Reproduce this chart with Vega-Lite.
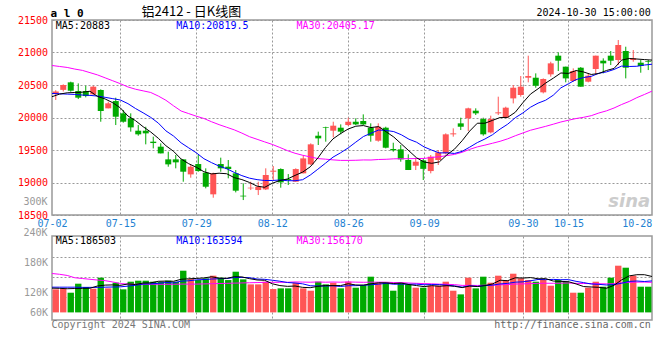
{
  "$schema": "https://vega.github.io/schema/vega-lite/v6.json",
  "background": "#ffffff",
  "padding": {"left": 16, "top": 4, "right": 4, "bottom": 4},
  "autosize": {"type": "pad"},
  "spacing": 21,
  "bounds": "flush",
  "resolve": {"scale": {"x": "independent", "y": "independent"}},
  "config": {
    "view": {"stroke": "#999999", "strokeWidth": 1.5},
    "axis": {"labelFont": "DejaVu Sans Mono", "labelFontSize": 10, "labelOverlap": false},
    "text": {"font": "DejaVu Sans Mono", "fontSize": 10}
  },
  "data": {"values": [
    {"d":"07-02","o":20360,"h":20420,"l":20270,"c":20400,"m5":20320,"m10":20370,"m30":20800,"v":119700,"v5":126000,"v10":131000,"v30":202000},
    {"d":"07-03","o":20425,"h":20510,"l":20400,"c":20500,"m5":20360,"m10":20365,"m30":20785,"v":121400,"v5":125000,"v10":131000,"v30":198000},
    {"d":"07-04","o":20541,"h":20551,"l":20397,"c":20412,"m5":20380,"m10":20360,"m30":20770,"v":102300,"v5":123000,"v10":131000,"v30":192000},
    {"d":"07-05","o":20407,"h":20525,"l":20284,"c":20305,"m5":20385,"m10":20355,"m30":20745,"v":149100,"v5":124000,"v10":131000,"v30":180000},
    {"d":"07-08","o":20407,"h":20489,"l":20310,"c":20330,"m5":20389,"m10":20345,"m30":20725,"v":131800,"v5":124900,"v10":130000,"v30":176000},
    {"d":"07-09","o":20356,"h":20489,"l":20346,"c":20474,"m5":20404,"m10":20340,"m30":20690,"v":123100,"v5":125500,"v10":130000,"v30":172000},
    {"d":"07-10","o":20423,"h":20433,"l":19935,"c":20100,"m5":20324,"m10":20330,"m30":20655,"v":180300,"v5":137300,"v10":130000,"v30":168000},
    {"d":"07-11","o":20141,"h":20243,"l":20141,"c":20218,"m5":20285,"m10":20310,"m30":20610,"v":124900,"v5":141800,"v10":131000,"v30":165000},
    {"d":"07-12","o":20253,"h":20305,"l":19884,"c":20012,"m5":20227,"m10":20290,"m30":20565,"v":154300,"v5":142900,"v10":132000,"v30":158000},
    {"d":"07-15","o":20064,"h":20115,"l":19920,"c":19935,"m5":20148,"m10":20269,"m30":20520,"v":119700,"v5":140500,"v10":132700,"v30":150000},
    {"d":"07-16","o":19987,"h":20064,"l":19782,"c":19848,"m5":20023,"m10":20213,"m30":20470,"v":159500,"v5":147700,"v10":136600,"v30":147000},
    {"d":"07-17","o":19797,"h":19884,"l":19720,"c":19741,"m5":19951,"m10":20138,"m30":20435,"v":164700,"v5":144600,"v10":141000,"v30":146000},
    {"d":"07-18","o":19797,"h":19858,"l":19587,"c":19756,"m5":19858,"m10":20072,"m30":20410,"v":164700,"v5":152600,"v10":147200,"v30":146000},
    {"d":"07-19","o":19628,"h":19705,"l":19525,"c":19607,"m5":19777,"m10":20002,"m30":20385,"v":159500,"v5":153600,"v10":148300,"v30":146000},
    {"d":"07-22","o":19551,"h":19602,"l":19448,"c":19448,"m5":19680,"m10":19914,"m30":20330,"v":159500,"v5":161600,"v10":151000,"v30":146000},
    {"d":"07-23","o":19356,"h":19474,"l":19243,"c":19279,"m5":19566,"m10":19794,"m30":20265,"v":164700,"v5":162600,"v10":155200,"v30":146000},
    {"d":"07-24","o":19356,"h":19423,"l":19218,"c":19310,"m5":19480,"m10":19715,"m30":20180,"v":159500,"v5":161600,"v10":153100,"v30":146000},
    {"d":"07-25","o":19356,"h":19356,"l":19012,"c":19166,"m5":19362,"m10":19610,"m30":20100,"v":216600,"v5":172000,"v10":162300,"v30":147000},
    {"d":"07-26","o":19125,"h":19269,"l":19074,"c":19243,"m5":19289,"m10":19533,"m30":20060,"v":173300,"v5":174700,"v10":164200,"v30":147000},
    {"d":"07-29","o":19284,"h":19423,"l":19166,"c":19176,"m5":19235,"m10":19457,"m30":20020,"v":168100,"v5":176400,"v10":169000,"v30":147000},
    {"d":"07-30","o":19151,"h":19218,"l":18910,"c":18935,"m5":19166,"m10":19366,"m30":19985,"v":176800,"v5":178900,"v10":170700,"v30":148000},
    {"d":"07-31","o":18818,"h":19151,"l":18766,"c":19141,"m5":19132,"m10":19306,"m30":19935,"v":190700,"v5":185100,"v10":173300,"v30":149000},
    {"d":"08-01","o":19284,"h":19382,"l":19166,"c":19218,"m5":19143,"m10":19252,"m30":19890,"v":180300,"v5":177800,"v10":174900,"v30":150000},
    {"d":"08-02","o":19243,"h":19346,"l":19064,"c":19207,"m5":19135,"m10":19212,"m30":19850,"v":168100,"v5":176800,"v10":175800,"v30":151000},
    {"d":"08-05","o":19141,"h":19192,"l":18848,"c":18874,"m5":19075,"m10":19155,"m30":19810,"v":211400,"v5":185500,"v10":181000,"v30":152000},
    {"d":"08-06","o":18797,"h":18987,"l":18730,"c":18786,"m5":19045,"m10":19106,"m30":19760,"v":171600,"v5":184400,"v10":181600,"v30":153000},
    {"d":"08-07","o":18910,"h":19012,"l":18884,"c":18920,"m5":19001,"m10":19067,"m30":19705,"v":145600,"v5":175400,"v10":180300,"v30":154000},
    {"d":"08-08","o":18884,"h":19012,"l":18807,"c":18935,"m5":18944,"m10":19044,"m30":19665,"v":145600,"v5":168500,"v10":173200,"v30":155000},
    {"d":"08-09","o":18894,"h":19218,"l":18884,"c":19115,"m5":18926,"m10":19031,"m30":19625,"v":159500,"v5":166700,"v10":171800,"v30":156000},
    {"d":"08-12","o":19166,"h":19253,"l":19038,"c":19182,"m5":18988,"m10":19031,"m30":19586,"v":121400,"v5":148700,"v10":167100,"v30":156300},
    {"d":"08-13","o":19207,"h":19218,"l":18920,"c":19002,"m5":19031,"m10":19038,"m30":19539,"v":124900,"v5":139400,"v10":161900,"v30":156400},
    {"d":"08-14","o":19053,"h":19130,"l":18961,"c":19038,"m5":19054,"m10":19028,"m30":19490,"v":124900,"v5":135300,"v10":155300,"v30":156500},
    {"d":"08-15","o":19012,"h":19218,"l":19012,"c":19207,"m5":19109,"m10":19027,"m30":19450,"v":154300,"v5":137000,"v10":152700,"v30":158300},
    {"d":"08-16","o":19141,"h":19423,"l":19141,"c":19371,"m5":19160,"m10":19043,"m30":19419,"v":124900,"v5":130100,"v10":148400,"v30":157500},
    {"d":"08-19","o":19279,"h":19602,"l":19269,"c":19587,"m5":19241,"m10":19114,"m30":19394,"v":112700,"v5":128300,"v10":138500,"v30":156800},
    {"d":"08-20","o":19720,"h":19782,"l":19577,"c":19679,"m5":19376,"m10":19204,"m30":19368,"v":159500,"v5":135300,"v10":137300,"v30":158100},
    {"d":"08-21","o":19853,"h":19858,"l":19628,"c":19843,"m5":19537,"m10":19296,"m30":19359,"v":145600,"v5":139400,"v10":137300,"v30":156900},
    {"d":"08-22","o":19797,"h":19935,"l":19694,"c":19874,"m5":19671,"m10":19390,"m30":19348,"v":154300,"v5":139400,"v10":138200,"v30":157900},
    {"d":"08-23","o":19843,"h":19894,"l":19741,"c":19782,"m5":19753,"m10":19457,"m30":19340,"v":124900,"v5":139400,"v10":134700,"v30":156900},
    {"d":"08-26","o":19884,"h":19997,"l":19869,"c":19935,"m5":19823,"m10":19532,"m30":19340,"v":159500,"v5":148800,"v10":138600,"v30":158200},
    {"d":"08-27","o":19935,"h":19987,"l":19884,"c":19894,"m5":19866,"m10":19621,"m30":19342,"v":128300,"v5":142500,"v10":138900,"v30":157200},
    {"d":"08-28","o":19946,"h":20048,"l":19884,"c":19894,"m5":19876,"m10":19707,"m30":19347,"v":142200,"v5":141800,"v10":140600,"v30":156400},
    {"d":"08-29","o":19843,"h":19910,"l":19628,"c":19720,"m5":19845,"m10":19758,"m30":19346,"v":185500,"v5":148100,"v10":143700,"v30":157100},
    {"d":"08-30","o":19643,"h":19910,"l":19628,"c":19858,"m5":19860,"m10":19807,"m30":19354,"v":154300,"v5":154000,"v10":146700,"v30":157000},
    {"d":"09-02","o":19843,"h":19858,"l":19525,"c":19535,"m5":19780,"m10":19801,"m30":19357,"v":156000,"v5":153300,"v10":151000,"v30":156800},
    {"d":"09-03","o":19515,"h":19612,"l":19474,"c":19495,"m5":19700,"m10":19783,"m30":19364,"v":112700,"v5":150100,"v10":146300,"v30":155100},
    {"d":"09-04","o":19510,"h":19577,"l":19320,"c":19356,"m5":19593,"m10":19734,"m30":19366,"v":154300,"v5":152600,"v10":147200,"v30":154900},
    {"d":"09-05","o":19346,"h":19433,"l":19192,"c":19192,"m5":19487,"m10":19666,"m30":19366,"v":145600,"v5":144600,"v10":146300,"v30":152600},
    {"d":"09-06","o":19258,"h":19371,"l":19192,"c":19320,"m5":19380,"m10":19620,"m30":19369,"v":128300,"v5":139400,"v10":146700,"v30":151100},
    {"d":"09-09","o":19340,"h":19371,"l":19038,"c":19210,"m5":19315,"m10":19547,"m30":19370,"v":128300,"v5":133800,"v10":143600,"v30":149700},
    {"d":"09-10","o":19176,"h":19423,"l":19141,"c":19397,"m5":19295,"m10":19498,"m30":19386,"v":138700,"v5":139000,"v10":144600,"v30":148500},
    {"d":"09-11","o":19346,"h":19500,"l":19269,"c":19464,"m5":19317,"m10":19455,"m30":19396,"v":138700,"v5":135900,"v10":144200,"v30":146700},
    {"d":"09-12","o":19448,"h":19756,"l":19433,"c":19741,"m5":19426,"m10":19457,"m30":19414,"v":159500,"v5":138700,"v10":141600,"v30":146000},
    {"d":"09-13","o":19741,"h":19833,"l":19705,"c":19756,"m5":19514,"m10":19447,"m30":19432,"v":112700,"v5":135600,"v10":137500,"v30":144200},
    {"d":"09-18","o":19910,"h":19997,"l":19807,"c":19858,"m5":19643,"m10":19479,"m30":19465,"v":93700,"v5":128700,"v10":131300,"v30":140300},
    {"d":"09-19","o":19987,"h":20151,"l":19792,"c":20141,"m5":19792,"m10":19544,"m30":19510,"v":180300,"v5":137000,"v10":138000,"v30":140600},
    {"d":"09-20","o":20105,"h":20141,"l":20038,"c":20064,"m5":19912,"m10":19614,"m30":19548,"v":124900,"v5":134200,"v10":135100,"v30":139900},
    {"d":"09-23","o":19976,"h":19997,"l":19720,"c":19741,"m5":19912,"m10":19669,"m30":19575,"v":185500,"v5":139400,"v10":139100,"v30":141200},
    {"d":"09-24","o":19771,"h":20028,"l":19756,"c":19976,"m5":19956,"m10":19735,"m30":19604,"v":154300,"v5":147700,"v10":141700,"v30":141000},
    {"d":"09-25","o":20064,"h":20320,"l":20038,"c":20079,"m5":20000,"m10":19822,"m30":19634,"v":190700,"v5":167100,"v10":147900,"v30":143300},
    {"d":"09-26","o":19997,"h":20166,"l":19987,"c":20151,"m5":20002,"m10":19897,"m30":19672,"v":168100,"v5":164700,"v10":150800,"v30":144800},
    {"d":"09-27","o":20294,"h":20500,"l":20217,"c":20458,"m5":20081,"m10":19997,"m30":19719,"v":201000,"v5":179900,"v10":157100,"v30":147300},
    {"d":"09-30","o":20346,"h":20638,"l":20320,"c":20474,"m5":20228,"m10":20070,"m30":19762,"v":176800,"v5":178200,"v10":158800,"v30":148100},
    {"d":"10-08","o":20612,"h":20951,"l":20541,"c":20638,"m5":20360,"m10":20158,"m30":19804,"v":168100,"v5":180900,"v10":164300,"v30":149500},
    {"d":"10-09","o":20612,"h":20679,"l":20458,"c":20489,"m5":20442,"m10":20221,"m30":19834,"v":159500,"v5":174700,"v10":170900,"v30":151100},
    {"d":"10-10","o":20387,"h":20602,"l":20371,"c":20592,"m5":20530,"m10":20266,"m30":19864,"v":171600,"v5":175400,"v10":170100,"v30":151500},
    {"d":"10-11","o":20664,"h":20858,"l":20628,"c":20833,"m5":20605,"m10":20343,"m30":19897,"v":138700,"v5":162900,"v10":171400,"v30":151200},
    {"d":"10-14","o":20951,"h":21002,"l":20715,"c":20874,"m5":20685,"m10":20456,"m30":19931,"v":168100,"v5":161200,"v10":169700,"v30":151700},
    {"d":"10-15","o":20782,"h":20782,"l":20541,"c":20602,"m5":20678,"m10":20519,"m30":19958,"v":159500,"v5":159500,"v10":170200,"v30":152800},
    {"d":"10-16","o":20561,"h":20756,"l":20551,"c":20715,"m5":20723,"m10":20583,"m30":19984,"v":102300,"v5":148000,"v10":161400,"v30":150900},
    {"d":"10-17","o":20766,"h":20776,"l":20474,"c":20474,"m5":20700,"m10":20615,"m30":20003,"v":102300,"v5":134200,"v10":154800,"v30":150100},
    {"d":"10-18","o":20551,"h":20679,"l":20541,"c":20643,"m5":20662,"m10":20633,"m30":20028,"v":128300,"v5":132100,"v10":147500,"v30":149600},
    {"d":"10-21","o":20746,"h":20951,"l":20653,"c":20951,"m5":20677,"m10":20681,"m30":20069,"v":159500,"v5":130400,"v10":145800,"v30":148700},
    {"d":"10-22","o":20874,"h":20910,"l":20679,"c":20833,"m5":20723,"m10":20701,"m30":20102,"v":133500,"v5":125200,"v10":142300,"v30":148100},
    {"d":"10-23","o":20951,"h":21023,"l":20807,"c":20874,"m5":20755,"m10":20739,"m30":20146,"v":180300,"v5":140800,"v10":144400,"v30":148900},
    {"d":"10-24","o":20884,"h":21192,"l":20807,"c":21115,"m5":20883,"m10":20791,"m30":20200,"v":242600,"v5":168800,"v10":151500,"v30":153200},
    {"d":"10-25","o":21023,"h":21089,"l":20602,"c":20766,"m5":20908,"m10":20785,"m30":20247,"v":232200,"v5":189600,"v10":160900,"v30":155800},
    {"d":"10-28","o":20884,"h":21038,"l":20858,"c":20910,"m5":20900,"m10":20788,"m30":20305,"v":190700,"v5":195900,"v10":163100,"v30":157300},
    {"d":"10-29","o":20843,"h":20884,"l":20689,"c":20792,"m5":20891,"m10":20807,"m30":20354,"v":133500,"v5":195900,"v10":160500,"v30":157500},
    {"d":"10-30","o":20869,"h":20884,"l":20730,"c":20858,"m5":20883,"m10":20819.5,"m30":20405.17,"v":133500,"v5":186503,"v10":163594,"v30":156170}
  ]},
  "vconcat": [
    {
      "width": 600,
      "height": 195,
      "resolve": {"scale": {"x": "independent"}},
      "layer": [
        {
          "encoding": {
            "x": {"field": "d", "type": "ordinal", "title": null, "scale": {"type": "band", "paddingInner": 0, "paddingOuter": 0},
              "axis": {"orient": "top", "values": ["07-02"], "labelExpr": "'a l 0'", "labelAngle": 0, "labelAlign": "left", "labelBaseline": "middle", "labelPadding": 6.5, "labelOffset": -5.25, "labelFontSize": 11, "labelFontWeight": "bold", "labelColor": "#000000", "grid": false, "ticks": false, "tickSize": 0, "domain": false, "title": null}},
            "color": {"condition": {"test": "datum.c >= datum.o", "value": "#ff5555"}, "value": "#00aa00"}
          },
          "layer": [
            {
              "mark": {"type": "rule", "strokeWidth": 1},
              "encoding": {
                "y": {"field": "l", "type": "quantitative", "title": null,
                  "scale": {"domain": [18500, 21500], "nice": false, "zero": false},
                  "axis": {"values": [18500, 19000, 19500, 20000, 20500, 21000, 21500], "tickCount": 20, "format": "d", "labelColor": "#ff0000", "grid": true, "gridColor": "#999999", "gridDash": [2, 2], "domain": false, "ticks": false, "tickSize": 0, "labelPadding": 4.5, "labelOverlap": false, "title": null}},
                "y2": {"field": "h"}
              }
            },
            {
              "mark": {"type": "bar", "width": {"band": 0.8}},
              "encoding": {
                "y": {"field": "o", "type": "quantitative", "title": null},
                "y2": {"field": "c"}
              }
            }
          ]
        },
        {
          "encoding": {
            "x": {"field": "d", "type": "ordinal", "title": null, "scale": {"type": "point", "padding": 0},
              "axis": {"values": ["07-02", "07-15", "07-29", "08-12", "08-26", "09-09", "09-30", "10-15", "10-28"], "labelColor": "#1e82d2", "labelAngle": 0, "grid": true, "gridColor": "#999999", "gridDash": [2, 2], "gridOpacity": {"condition": {"test": "datum.value === '07-02' || datum.value === '10-28'", "value": 0}, "value": 1}, "domain": false, "ticks": false, "tickSize": 0, "labelPadding": 3.0, "labelOverlap": false, "title": null}}
          },
          "layer": [
            {"mark": {"type": "line", "color": "#ff00ff", "strokeWidth": 1}, "encoding": {"y": {"field": "m30", "type": "quantitative", "title": null}}},
            {"mark": {"type": "line", "color": "#0000ff", "strokeWidth": 1}, "encoding": {"y": {"field": "m10", "type": "quantitative", "title": null}}},
            {"mark": {"type": "line", "color": "#000000", "strokeWidth": 1}, "encoding": {"y": {"field": "m5", "type": "quantitative", "title": null}}},
            {"data": {"values": [{}]}, "mark": {"type": "text", "text": "铝2412 - 日K线图", "align": "left", "baseline": "middle", "dx": -1.6, "dy": -8.3, "font": "Noto Sans CJK SC", "fontSize": 13, "color": "#000000"},
             "encoding": {"x": {"datum": "07-18", "type": "ordinal"}, "y": {"datum": 21500, "type": "quantitative"}}},
            {"data": {"values": [{}]}, "mark": {"type": "text", "text": "2024-10-30 15:00:00", "align": "right", "baseline": "middle", "dx": -1.2, "dy": -6.6, "color": "#000000"},
             "encoding": {"x": {"datum": "10-30", "type": "ordinal"}, "y": {"datum": 21500, "type": "quantitative"}}},
            {"data": {"values": [{}]}, "mark": {"type": "text", "text": "MA5:20883", "align": "left", "baseline": "middle", "dx": 3.8, "dy": 5.6, "color": "#000000"},
             "encoding": {"x": {"datum": "07-02", "type": "ordinal"}, "y": {"datum": 21500, "type": "quantitative"}}},
            {"data": {"values": [{}]}, "mark": {"type": "text", "text": "MA10:20819.5", "align": "left", "baseline": "middle", "dx": 2.7, "dy": 5.6, "color": "#0000ff"},
             "encoding": {"x": {"datum": "07-24", "type": "ordinal"}, "y": {"datum": 21500, "type": "quantitative"}}},
            {"data": {"values": [{}]}, "mark": {"type": "text", "text": "MA30:20405.17", "align": "left", "baseline": "middle", "dx": 1.5, "dy": 5.6, "color": "#ff00ff"},
             "encoding": {"x": {"datum": "08-15", "type": "ordinal"}, "y": {"datum": 21500, "type": "quantitative"}}},
            {"data": {"values": [{}]}, "mark": {"type": "text", "text": "sina", "align": "center", "baseline": "middle", "font": "DejaVu Sans", "fontSize": 18, "fontStyle": "italic", "fontWeight": "bold", "color": "#cccccc"},
             "encoding": {"x": {"datum": "10-25", "type": "ordinal"}, "y": {"datum": 18700, "type": "quantitative"}}}
          ]
        }
      ]
    },
    {
      "width": 600,
      "height": 84,
      "resolve": {"scale": {"x": "independent"}, "axis": {"y": "independent"}},
      "layer": [
        {
          "mark": {"type": "bar", "width": {"band": 0.85}},
          "encoding": {
            "x": {"field": "d", "type": "ordinal", "title": null, "scale": {"type": "band", "paddingInner": 0, "paddingOuter": 0}, "axis": null},
            "y": {"field": "v", "type": "quantitative", "title": null,
              "scale": {"domain": [-39500, 396900], "nice": false, "zero": false},
              "axis": {"orient": "left", "values": [-1600, 102300, 258200], "tickCount": 20, "labelExpr": "datum.value < 50000 ? '60K' : datum.value < 200000 ? '120K' : '180K'", "labelColor": "#999999", "grid": false, "domain": false, "ticks": false, "tickSize": 0, "labelPadding": 4.5, "labelOverlap": false, "title": null}},
            "y2": {"datum": 0},
            "color": {"condition": {"test": "datum.c >= datum.o", "value": "#ff5555"}, "value": "#00aa00"}
          }
        },
        {
          "encoding": {
            "x": {"field": "d", "type": "ordinal", "title": null, "scale": {"type": "point", "padding": 0},
              "axis": {"values": ["07-02", "07-15", "07-29", "08-12", "08-26", "09-09", "09-30", "10-15", "10-28"], "labels": false, "grid": true, "gridColor": "#999999", "gridDash": [2, 2], "gridOpacity": {"condition": {"test": "datum.value === '07-02' || datum.value === '10-28'", "value": 0}, "value": 1}, "domain": false, "ticks": false, "tickSize": 0, "title": null}}
          },
          "layer": [
            {"mark": {"type": "line", "color": "#ff00ff", "strokeWidth": 1},
             "encoding": {"y": {"field": "v30", "type": "quantitative", "title": null,
               "axis": {"orient": "left", "values": [81600, 185500, 289400], "tickCount": 20, "labels": false, "grid": true, "gridColor": "#999999", "gridDash": [2, 2], "domain": false, "ticks": false, "tickSize": 0, "title": null}}}},
            {"mark": {"type": "line", "color": "#0000ff", "strokeWidth": 1}, "encoding": {"y": {"field": "v10", "type": "quantitative", "title": null}}},
            {"mark": {"type": "line", "color": "#000000", "strokeWidth": 1}, "encoding": {"y": {"field": "v5", "type": "quantitative", "title": null}}},
            {"data": {"values": [{}]}, "mark": {"type": "text", "text": "240K", "align": "right", "baseline": "middle", "dx": -4.5, "dy": 2.5, "color": "#999999"},
             "encoding": {"x": {"datum": "07-02", "type": "ordinal"}, "y": {"datum": 427000, "type": "quantitative"}}},
            {"data": {"values": [{}]}, "mark": {"type": "text", "text": "300K", "align": "right", "baseline": "middle", "dx": -4.5, "color": "#999999"},
             "encoding": {"x": {"datum": "07-02", "type": "ordinal"}, "y": {"datum": 575100, "type": "quantitative"}}},
            {"data": {"values": [{}]}, "mark": {"type": "text", "text": "MA5:186503", "align": "left", "baseline": "middle", "dx": 3.8, "dy": 4.7, "color": "#000000"},
             "encoding": {"x": {"datum": "07-02", "type": "ordinal"}, "y": {"datum": 396900, "type": "quantitative"}}},
            {"data": {"values": [{}]}, "mark": {"type": "text", "text": "MA10:163594", "align": "left", "baseline": "middle", "dx": 2.7, "dy": 4.7, "color": "#0000ff"},
             "encoding": {"x": {"datum": "07-24", "type": "ordinal"}, "y": {"datum": 396900, "type": "quantitative"}}},
            {"data": {"values": [{}]}, "mark": {"type": "text", "text": "MA30:156170", "align": "left", "baseline": "middle", "dx": 1.5, "dy": 4.7, "color": "#ff00ff"},
             "encoding": {"x": {"datum": "08-15", "type": "ordinal"}, "y": {"datum": 396900, "type": "quantitative"}}},
            {"data": {"values": [{}]}, "mark": {"type": "text", "text": "Copyright 2024 SINA.COM", "align": "left", "baseline": "middle", "dx": -0.5, "dy": 5.4, "color": "#777777"},
             "encoding": {"x": {"datum": "07-02", "type": "ordinal"}, "y": {"datum": -39500, "type": "quantitative"}}},
            {"data": {"values": [{}]}, "mark": {"type": "text", "text": "http://finance.sina.com.cn", "align": "right", "baseline": "middle", "dx": -1.2, "dy": 5.4, "color": "#666666"},
             "encoding": {"x": {"datum": "10-30", "type": "ordinal"}, "y": {"datum": -39500, "type": "quantitative"}}}
          ]
        }
      ]
    }
  ]
}
